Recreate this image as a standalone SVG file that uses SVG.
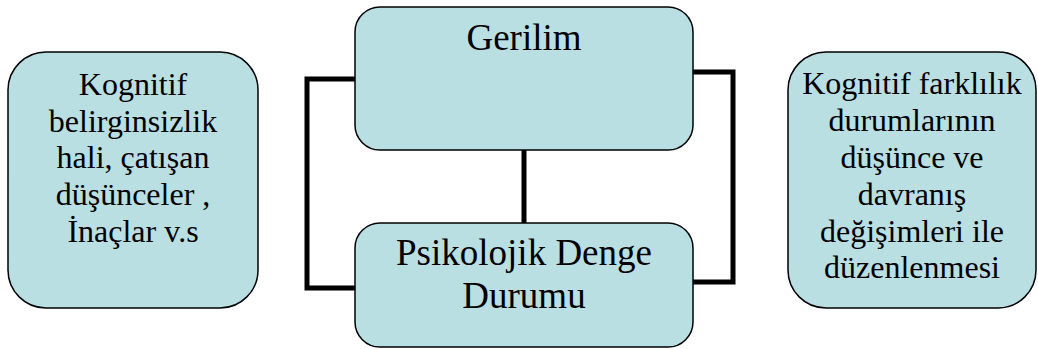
<svg xmlns="http://www.w3.org/2000/svg" width="1038" height="349" viewBox="0 0 1038 349">
<style>
.box{fill:#b9dfe3;stroke:#000;stroke-width:1.5}
.conn{fill:none;stroke:#000;stroke-width:5}
.t{font-family:"Liberation Serif","Times New Roman",serif;fill:#000;text-anchor:middle}
.s{font-size:32px}
.l{font-size:37px}
</style>
<rect width="1038" height="349" fill="#fff"/>
<g id="connectors">
<polyline class="conn" points="356,79 307,79 307,288 356,288"/>
<polyline class="conn" points="683,72 733,72 733,282 683,282"/>
<line class="conn" x1="524" y1="150" x2="524" y2="224"/>
</g>
<g id="node-left">
<rect class="box" x="8" y="52" width="250" height="256" rx="38"/>
<text class="t s"><tspan x="133" y="95">Kognitif</tspan><tspan x="133" y="132">belirginsizlik</tspan><tspan x="133" y="168">hali, çatışan</tspan><tspan x="133" y="205">düşünceler ,</tspan><tspan x="133" y="242">İnaçlar v.s</tspan></text>
</g>
<g id="node-top">
<rect class="box" x="355" y="7" width="338" height="143" rx="25"/>
<text class="t l" x="524" y="50">Gerilim</text>
</g>
<g id="node-bottom">
<rect class="box" x="355" y="223" width="338" height="124" rx="25"/>
<text class="t l"><tspan x="524" y="265">Psikolojik Denge</tspan><tspan x="524" y="308">Durumu</tspan></text>
</g>
<g id="node-right">
<rect class="box" x="788" y="52" width="248" height="256" rx="38"/>
<text class="t s"><tspan x="912" y="94">Kognitif farklılık</tspan><tspan x="912" y="131">durumlarının</tspan><tspan x="912" y="168">düşünce ve</tspan><tspan x="912" y="205">davranış</tspan><tspan x="912" y="242">değişimleri ile</tspan><tspan x="912" y="278">düzenlenmesi</tspan></text>
</g>
</svg>
